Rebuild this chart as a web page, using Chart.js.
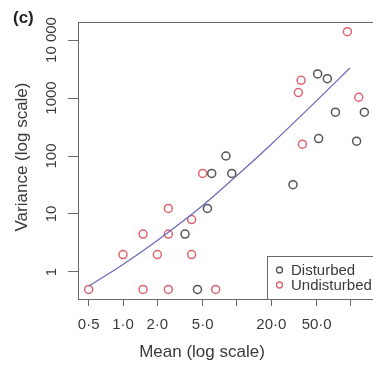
<!DOCTYPE html>
<html>
<head>
<meta charset="utf-8">
<script src="https://cdn.jsdelivr.net/npm/chart.js@4/dist/chart.umd.min.js"></script>
<style>
  html, body { margin: 0; padding: 0; background: #fff; overflow: hidden; }
  #wrap { width: 373px; height: 367px; overflow: hidden; }
</style>
</head>
<body>
<div id="wrap"><canvas id="chart" width="400" height="367"></canvas></div>
<script>
// --- Data ---
const seriesNames = ['Disturbed', 'Undisturbed'];

const disturbedMean = [3.5, 4.5, 5.5, 6, 8, 9, 31, 51, 62, 52, 73, 112, 131];
const disturbedVar = [4.5, 0.5, 12.5, 50, 100, 50, 32, 2600, 2150, 200, 570, 180, 570];

const undisturbedMean = [0.5, 1, 1.5, 1.5, 2, 2.5, 2.5, 2.5, 4, 4, 5, 6.5, 34.5, 36.5, 37.5, 93, 117];
const undisturbedVar = [0.5, 2, 4.5, 0.5, 2, 12.5, 4.5, 0.5, 8, 2, 50, 0.5, 1240, 2020, 160, 13900, 1030];

// fitted curve
const fitMean = [0.5, 1, 2, 5, 10, 20, 50, 98];
const fitVar = [0.57, 1.35, 3.5, 14, 46, 160, 900, 3300];

// axis ticks
const xTickVals = [0.5, 1, 2, 5, 10, 20, 50, 100];
const xTickLabels = ['0·5', '1·0', '2·0', '5·0', '', '20·0', '50·0', ''];
const yTickVals = [1, 10, 100, 1000, 10000];
const yTickLabels = ['1', '10', '100', '1000', '10 000'];

// --- Style ---
const FONT = "'Liberation Sans', Arial, sans-serif";
const axisColor = '#6a6a6a';
const textColor = '#3a3a3a';
const colors = ['#555555', '#e0646e'];
const fitColor = '#6c6cb8';

const toPoints = (xs, ys) => xs.map((x, i) => ({ x: x, y: ys[i] }));

// Box, rotated y labels, titles and legend
const decorations = {
    id: 'decorations',
    beforeDatasetsDraw(chart) {
        const { ctx, chartArea: a } = chart;
        ctx.save();
        ctx.strokeStyle = axisColor;
        ctx.lineWidth = 1;
        ctx.strokeRect(Math.round(a.left) + 0.5, Math.round(a.top) + 0.5,
            Math.round(a.right - a.left), Math.round(a.bottom - a.top));
        ctx.restore();
    },
    afterDraw(chart) {
        const { ctx, chartArea: a, scales } = chart;
        ctx.save();

        // y tick labels, rotated like R's las=0
        ctx.fillStyle = textColor;
        ctx.font = '15px ' + FONT;
        ctx.textAlign = 'center';
        ctx.textBaseline = 'middle';
        yTickVals.forEach((v, i) => {
            const y = scales.y.getPixelForValue(v);
            ctx.save();
            ctx.translate(52, y);
            ctx.rotate(-Math.PI / 2);
            ctx.fillText(yTickLabels[i], 0, 0);
            ctx.restore();
        });

        // axis titles
        ctx.font = '17px ' + FONT;
        ctx.fillText('Mean (log scale)', 202, 352);
        ctx.save();
        ctx.translate(22, 157);
        ctx.rotate(-Math.PI / 2);
        ctx.fillText('Variance (log scale)', 0, 0);
        ctx.restore();

        // panel tag
        ctx.font = 'bold 17px ' + FONT;
        ctx.fillStyle = '#222';
        ctx.textAlign = 'left';
        ctx.fillText('(c)', 13, 18);

        // legend (bottom right)
        const lx = a.right - 118, ly = a.bottom - 43;
        ctx.fillStyle = '#fff';
        ctx.fillRect(lx, ly, a.right - lx, a.bottom - ly);
        ctx.strokeStyle = axisColor;
        ctx.lineWidth = 1;
        ctx.strokeRect(Math.round(lx) + 0.5, Math.round(ly) + 0.5, a.right - lx, a.bottom - ly);
        ctx.font = '15px ' + FONT;
        seriesNames.forEach((name, i) => {
            const yy = ly + 14 + i * 15;
            ctx.beginPath();
            ctx.arc(lx + 12.5, yy, 3, 0, Math.PI * 2);
            ctx.strokeStyle = colors[i];
            ctx.lineWidth = 1.3;
            ctx.stroke();
            ctx.fillStyle = textColor;
            ctx.fillText(name, lx + 24, yy + 1);
        });
        ctx.restore();
    }
};

const ctx = document.getElementById('chart');

new Chart(ctx, {
    type: 'scatter',
    data: {
        datasets: [
            {
                type: 'line',
                label: 'fit',
                data: toPoints(fitMean, fitVar),
                borderColor: fitColor,
                borderWidth: 1.3,
                pointRadius: 0,
                fill: false,
                cubicInterpolationMode: 'monotone'
            },
            {
                label: seriesNames[0],
                data: toPoints(disturbedMean, disturbedVar),
                borderColor: colors[0],
                backgroundColor: 'rgba(0,0,0,0)',
                borderWidth: 1.5,
                pointRadius: 4
            },
            {
                label: seriesNames[1],
                data: toPoints(undisturbedMean, undisturbedVar),
                borderColor: colors[1],
                backgroundColor: 'rgba(0,0,0,0)',
                borderWidth: 1.5,
                pointRadius: 4
            }
        ]
    },
    options: {
        responsive: false,
        animation: false,
        devicePixelRatio: 1,
        layout: { padding: { top: 22, right: 15, left: 0, bottom: 0 } },
        plugins: {
            legend: { display: false },
            tooltip: { enabled: false }
        },
        scales: {
            x: {
                type: 'logarithmic',
                position: 'bottom',
                min: 0.4029,
                max: 198.8,
                bounds: 'data',
                afterBuildTicks: (scale) => {
                    scale.ticks = xTickVals.map(v => ({ value: v }));
                },
                afterFit: (scale) => { scale.height = 68; },
                border: { display: false },
                grid: {
                    drawOnChartArea: false,
                    tickLength: 7,
                    color: axisColor,
                    tickColor: axisColor
                },
                ticks: {
                    autoSkip: false,
                    maxRotation: 0,
                    padding: 10,
                    color: textColor,
                    font: { family: FONT, size: 15 },
                    callback: (value, index) => xTickLabels[index]
                }
            },
            y: {
                type: 'logarithmic',
                position: 'left',
                min: 0.3423,
                max: 20440,
                bounds: 'data',
                afterBuildTicks: (scale) => {
                    scale.ticks = yTickVals.map(v => ({ value: v }));
                },
                afterFit: (scale) => { scale.width = 78; },
                border: { display: false },
                grid: {
                    drawOnChartArea: false,
                    tickLength: 10,
                    color: axisColor,
                    tickColor: axisColor
                },
                ticks: { display: false }
            }
        }
    },
    plugins: [decorations]
});
</script>
</body>
</html>
